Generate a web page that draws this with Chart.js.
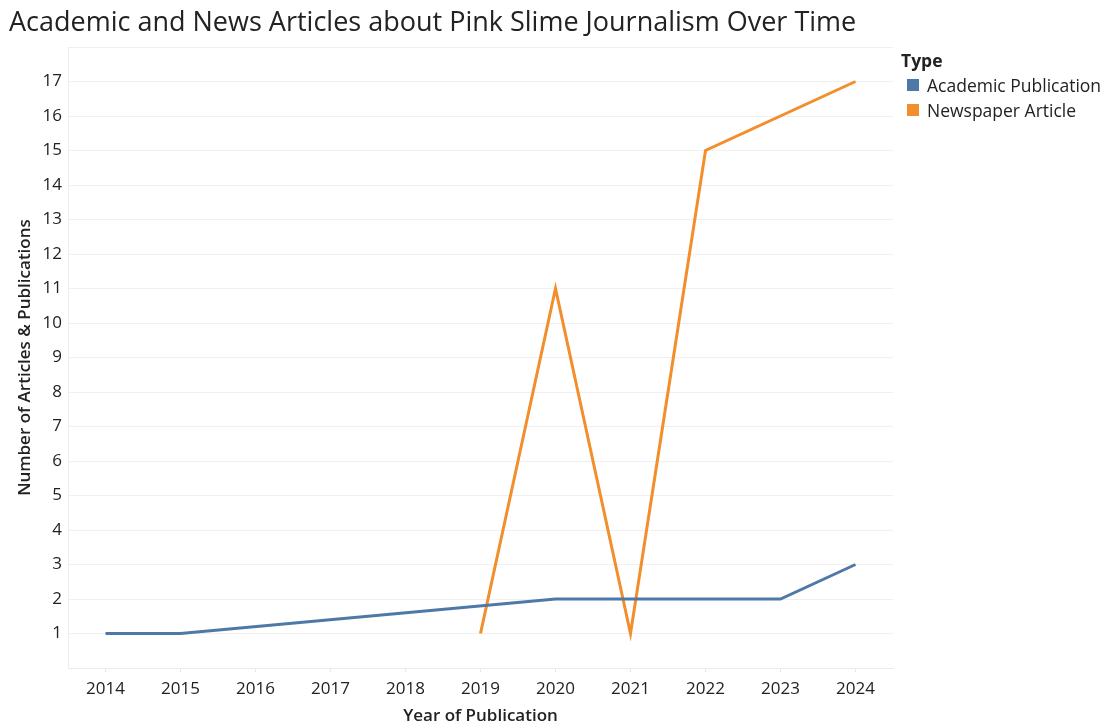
<!DOCTYPE html>
<html>
<head>
<meta charset="utf-8">
<script src="https://cdn.jsdelivr.net/npm/chart.js@4.4.1/dist/chart.umd.min.js"></script>
<style>
  html, body { margin: 0; padding: 0; background: #fff; }
  #wrap { position: relative; width: 1108px; height: 727px; font-family: 'Open Sans', sans-serif; color: #222; }
  #title { position: absolute; left: 9px; top: 2px; font-size: 27px; white-space: nowrap; color: #222; }
  #legend { position: absolute; left: 901px; top: 49px; font-size: 17.5px; color: #222; }
  #legend .head { font-weight: 700; height: 23px; line-height: 23px; }
  #legend .item { display: flex; align-items: center; height: 25px; }
  #legend .sw { width: 12px; height: 12px; margin: 0 8px 0 6px; }
  canvas { position: absolute; left: 0; top: 0; }
</style>
</head>
<body>
<div id="wrap">
  <canvas id="chart" width="1108" height="727"></canvas>
  <div id="title">Academic and News Articles about Pink Slime Journalism Over Time</div>
  <div id="legend">
    <div class="head">Type</div>
    <div class="item"><span class="sw" style="background:#4e79a7"></span>Academic Publication</div>
    <div class="item"><span class="sw" style="background:#f28e2b"></span>Newspaper Article</div>
  </div>
</div>
<script>
// publication counts per year
const academicYears = [2014, 2015, 2020, 2021, 2022, 2023, 2024];
const academicCounts = [1, 1, 2, 2, 2, 2, 3];
const newsYears = [2019, 2020, 2021, 2022, 2024];
const newsCounts = [1, 11, 1, 15, 17];
const yearTicks = [2014, 2015, 2016, 2017, 2018, 2019, 2020, 2021, 2022, 2023, 2024];

const tickFont = { family: 'Open Sans', size: 17 };
const titleFont = { family: 'Open Sans', size: 17, weight: '600' };

const toPoints = (xs, ys) => xs.map((x, i) => ({ x, y: ys[i] }));

new Chart(document.getElementById('chart'), {
  type: 'line',
  data: {
    datasets: [
      {
        label: 'Academic Publication',
        data: toPoints(academicYears, academicCounts),
        borderColor: '#4e79a7',
        borderWidth: 3,
        pointRadius: 0,
        tension: 0,
      },
      {
        label: 'Newspaper Article',
        data: toPoints(newsYears, newsCounts),
        borderColor: '#f28e2b',
        borderWidth: 3,
        pointRadius: 0,
        tension: 0,
      },
    ],
  },
  options: {
    responsive: false,
    animation: false,
    layout: { padding: { top: 47, right: 215, bottom: 0, left: 0 } },
    plugins: { legend: { display: false }, tooltip: { enabled: false } },
    scales: {
      x: {
        type: 'linear',
        min: 2013.5,
        max: 2024.5,
        afterBuildTicks: s => { s.ticks = yearTicks.map(v => ({ value: v })); },
        afterFit: s => { s.height = 59; },
        ticks: { font: tickFont, color: '#222', padding: 7, callback: v => String(v) },
        grid: { drawOnChartArea: false, tickLength: 4, color: '#e6e6e6' },
        border: { color: '#ececec' },
        title: { display: true, text: 'Year of Publication', font: titleFont, color: '#222', padding: { top: 0, bottom: 1 } },
      },
      y: {
        min: 0,
        max: 18,
        afterFit: s => { s.width = 68; },
        ticks: { stepSize: 1, font: tickFont, color: '#222', padding: 6, callback: v => (v === 0 || v === 18) ? '' : v },
        grid: { color: '#f0f0f0', drawTicks: false },
        border: { color: '#ececec' },
        title: { display: true, text: 'Number of Articles & Publications', font: titleFont, color: '#222', padding: { top: 15, bottom: 0 } },
      },
    },
  },
});
</script>
</body>
</html>
